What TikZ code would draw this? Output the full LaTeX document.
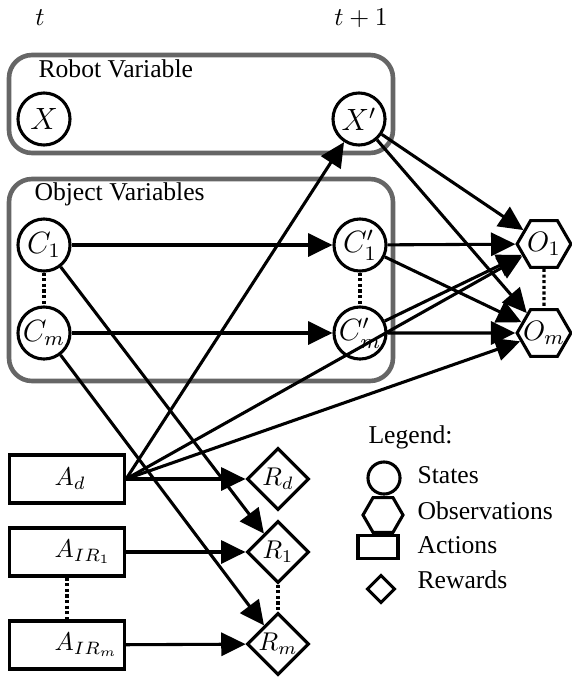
\documentclass[tikz,border=0pt]{standalone}
\usepackage[no-math]{fontspec}
\setmainfont{Liberation Serif}
\usetikzlibrary{arrows.meta, shapes.geometric}
\tikzstyle{state} = [circle, draw, line width=1.2pt, minimum size=20.3pt, inner sep=0pt, font=\large]
\tikzstyle{obs} = [regular polygon, regular polygon sides=6, draw, line width=1.2pt, minimum size=21pt, inner sep=-2pt, font=\fontsize{11pt}{13pt}\selectfont]
\tikzstyle{action} = [rectangle, draw, line width=1.2pt, minimum width=44.9pt, minimum height=18.7pt, inner sep=0pt]
\tikzstyle{reward} = [diamond, draw, line width=1.2pt, minimum size=24.2pt, inner sep=0pt]
\tikzstyle{group} = [draw=black!60, line width=1.8pt, rounded corners=9pt]
\tikzstyle{arc} = [-{Triangle[length=9.5pt, width=9pt]}, line width=1.2pt]
\tikzstyle{etc} = [densely dotted, line width=1.2pt]
\tikzstyle{txt} = [anchor=base west, inner sep=0pt]
\newcommand{\actlabel}[1]{\makebox[9.7pt][l]{$#1$}}

\begin{document}
\begin{tikzpicture}[x=0.39pt, y=-0.39pt]
        \useasboundingbox (0,0) rectangle (571,679);
        \node (tnow) [anchor=base, inner sep=0pt] at (40,25) {$t$};
        \node (tnext) [anchor=base, inner sep=0pt] at (361,25) {$t+1$};
        \draw [group] (9,55) rectangle (393,153);
        \draw [group] (9,179) rectangle (393,381);
        \node (robot) [txt] at (38,77) {Robot Variable};
        \node (object) [txt] at (34,200) {Object Variables};
        \node (X) [state] at (44,119) {$X$};
        \node (Xp) [state] at (359,119) {$X'$};
        \node (C1) [state] at (44,245) {$C_1$};
        \node (Cm) [state] at (44,333) {$C_m$};
        \node (C1p) [state] at (360,245) {$C_1'$};
        \node (Cmp) [state] at (360,333) {$C_m'$};
        \node (O1) [obs] at (544,244) {$O_1$};
        \node (Om) [obs] at (544,333) {$O_m$};
        \node (Ad) [action] at (67,479) {\actlabel{A_d}};
        \node (AIR1) [action] at (67,552) {\actlabel{A_{IR_1}}};
        \node (AIRm) [action] at (67,645) {\actlabel{A_{IR_m}}};
        \node (Rd) [reward] at (278,479) {$R_d$};
        \node (R1) [reward] at (278,552) {$R_1$};
        \node (Rm) [reward] at (278,644) {$R_m$};
        \draw [etc] (C1) -- (Cm);
        \draw [etc] (C1p) -- (Cmp);
        \draw [etc] (O1) -- (Om);
        \draw [etc] (AIR1) -- (AIRm);
        \draw [etc] (R1) -- (Rm);
        \draw [arc] (C1) -- (C1p);
        \draw [arc] (Cm) -- (Cmp);
        \draw [arc] (Xp) -- (O1);
        \draw [arc] (Xp) -- (Om);
        \draw [arc] (C1p) -- (O1);
        \draw [arc] (C1p) -- (Om);
        \draw [arc] (Cmp) -- (O1);
        \draw [arc] (Cmp) -- (Om);
        \draw [arc] (Ad.east) -- (Xp);
        \draw [arc] (Ad.east) -- (O1);
        \draw [arc] (Ad.east) -- (Om);
        \draw [arc] (Ad) -- (Rd);
        \draw [arc] (C1) -- (R1);
        \draw [arc] (Cm) -- (Rm);
        \draw [arc] (AIR1) -- (R1);
        \draw [arc] (AIRm) -- (Rm);
        \node (legend) [txt] at (368,443) {Legend:};
        \node (legstate) [state, minimum size=12.5pt] at (384,478) {};
        \node (legobs) [obs, minimum size=15.6pt] at (383,515) {};
        \node (legact) [action, minimum width=15.6pt, minimum height=9pt] at (378,547) {};
        \node (legrew) [reward, minimum size=11pt] at (381,589) {};
        \node (legstatetxt) [txt] at (417,483) {States};
        \node (legobstxt) [txt] at (417,519) {Observations};
        \node (legacttxt) [txt] at (417,553) {Actions};
        \node (legrewtxt) [txt] at (417,588) {Rewards};
    \end{tikzpicture}
\end{document}
